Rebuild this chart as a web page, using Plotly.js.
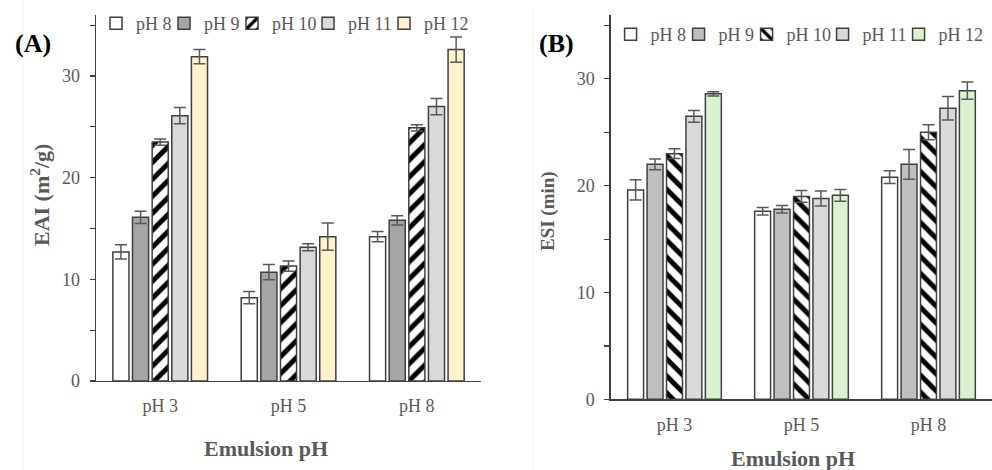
<!DOCTYPE html>
<html>
<head>
<meta charset="utf-8">
<script src="https://cdn.plot.ly/plotly-3.0.1.min.js"></script>
<style>html,body{margin:0;padding:0;background:#fff;}#chart{width:992px;height:470px;}</style>
</head>
<body>
<div id="chart"></div>
<script>
// ---- data ----
var categories = ['pH 3', 'pH 5', 'pH 8'];
var seriesNames = ['pH 8', 'pH 9', 'pH 10', 'pH 11', 'pH 12'];

// Panel A: EAI (m2/g)
var eaiPH8 = [12.7, 8.2, 14.2];
var eaiPH9 = [16.1, 10.7, 15.8];
var eaiPH10 = [23.5, 11.3, 24.9];
var eaiPH11 = [26.1, 13.15, 27.0];
var eaiPH12 = [31.9, 14.2, 32.6];
var eaiErrPH8 = [0.7, 0.6, 0.5];
var eaiErrPH9 = [0.6, 0.75, 0.45];
var eaiErrPH10 = [0.3, 0.5, 0.3];
var eaiErrPH11 = [0.8, 0.35, 0.8];
var eaiErrPH12 = [0.7, 1.35, 1.25];

// Panel B: ESI (min)
var esiPH8 = [19.6, 17.6, 20.8];
var esiPH9 = [22.0, 17.8, 22.0];
var esiPH10 = [23.0, 19.0, 25.0];
var esiPH11 = [26.5, 18.8, 27.25];
var esiPH12 = [28.6, 19.1, 28.9];
var esiErrPH8 = [0.95, 0.35, 0.6];
var esiErrPH9 = [0.5, 0.35, 1.4];
var esiErrPH10 = [0.45, 0.55, 0.7];
var esiErrPH11 = [0.55, 0.7, 1.1];
var esiErrPH12 = [0.2, 0.55, 0.8];

// ---- styles ----
var colorsA = ['#ffffff', '#a5a5a5', null, '#d9d9d9', '#fff2cc'];
var colorsB = ['#ffffff', '#bfbfbf', null, '#d9d9d9', '#daf2d0'];
var legendWidths = [23, 23, 31, 31, 47];
var FONT = 'Liberation Serif, Times New Roman, serif';
var GRAY = '#595959';

var valsA = [eaiPH8, eaiPH9, eaiPH10, eaiPH11, eaiPH12];
var errsA = [eaiErrPH8, eaiErrPH9, eaiErrPH10, eaiErrPH11, eaiErrPH12];
var valsB = [esiPH8, esiPH9, esiPH10, esiPH11, esiPH12];
var errsB = [esiErrPH8, esiErrPH9, esiErrPH10, esiErrPH11, esiErrPH12];

function makeTrace(i, vals, errs, colors, xa, ya, legend, shape) {
  var marker = {line: {color: '#3f3f3f', width: 1.5}};
  if (colors[i] === null) {
    marker.color = '#ffffff';
    marker.pattern = {shape: shape, fgcolor: '#000000', bgcolor: '#ffffff', size: 12, solidity: 0.42, fillmode: 'replace'};
  } else {
    marker.color = colors[i];
  }
  return {
    type: 'bar',
    name: seriesNames[i],
    x: categories,
    y: vals[i],
    xaxis: xa, yaxis: ya,
    legend: legend,
    legendwidth: legendWidths[i],
    marker: marker,
    error_y: {type: 'data', array: errs[i], visible: true, color: GRAY, thickness: 1.5, width: 6},
    hoverinfo: 'x+y+name'
  };
}

var data = [];
for (var i = 0; i < 5; i++) data.push(makeTrace(i, valsA, errsA, colorsA, 'x', 'y', 'legend', '/'));
for (var j = 0; j < 5; j++) data.push(makeTrace(j, valsB, errsB, colorsB, 'x2', 'y2', 'legend2', '\\'));

function yAxis(domain, anchor) {
  return {
    domain: domain, anchor: anchor, range: [0, 36],
    tickvals: [0, 10, 20, 30], ticks: 'outside', ticklen: 5, tickwidth: 1.2, tickcolor: '#404040',
    minor: {tickvals: [5, 15, 25, 35], ticks: 'outside', ticklen: 5, tickwidth: 1.2, tickcolor: '#404040'},
    showline: true, linecolor: '#404040', linewidth: 1.5,
    showgrid: false, zeroline: false,
    tickfont: {family: FONT, size: 18, color: GRAY},
    ticklabelstandoff: 6, fixedrange: true
  };
}
function xAxis(domain, anchor, standoff) {
  return {
    domain: domain, anchor: anchor, range: [-0.5, 2.5],
    showline: true, linecolor: '#404040', linewidth: 1.5,
    ticks: '', showgrid: false, zeroline: false,
    tickfont: {family: FONT, size: 18, color: GRAY},
    ticklabelstandoff: standoff, fixedrange: true
  };
}

var layout = {
  width: 992, height: 470,
  margin: {l: 0, r: 0, t: 0, b: 0},
  paper_bgcolor: '#ffffff', plot_bgcolor: 'rgba(0,0,0,0)',
  barmode: 'group', bargap: 0.235, bargroupgap: 0.18,
  font: {family: FONT, color: GRAY},
  xaxis: xAxis([0.0968, 0.4849], 'y', 8),
  yaxis: yAxis([0.1894, 0.968], 'x'),
  xaxis2: xAxis([0.6159, 1.0], 'y2', 9),
  yaxis2: yAxis([0.1504, 0.9685], 'x2'),
  legend: {
    orientation: 'h', x: 0.0968, xanchor: 'left', y: 0.989, yanchor: 'top',
    font: {family: FONT, size: 18, color: GRAY}, bgcolor: 'rgba(0,0,0,0)', traceorder: 'normal'
  },
  legend2: {
    orientation: 'h', x: 0.6155, xanchor: 'left', y: 0.966, yanchor: 'top',
    font: {family: FONT, size: 18, color: GRAY}, bgcolor: 'rgba(0,0,0,0)', traceorder: 'normal'
  },
  shapes: [
    {type: 'line', xref: 'paper', yref: 'paper', x0: 0.0232, x1: 0.0232, y0: 0, y1: 1, line: {color: '#efefef', width: 1}},
    {type: 'line', xref: 'paper', yref: 'paper', x0: 0.537, x1: 0.537, y0: 0, y1: 0.979, line: {color: '#efefef', width: 1}}
  ],
  annotations: [
    {text: '<b>(A)</b>', xref: 'paper', yref: 'paper', x: 0.0333, y: 0.9085, xanchor: 'center', yanchor: 'middle', showarrow: false, font: {family: FONT, size: 26, color: '#000000'}},
    {text: '<b>(B)</b>', xref: 'paper', yref: 'paper', x: 0.5605, y: 0.9085, xanchor: 'center', yanchor: 'middle', showarrow: false, font: {family: FONT, size: 26, color: '#000000'}},
    {text: '<b>EAI (m<sup>2</sup>/g)</b>', textangle: -90, xref: 'paper', yref: 'paper', x: 0.0403, y: 0.585, xanchor: 'center', yanchor: 'middle', showarrow: false, font: {family: FONT, size: 22, color: GRAY}},
    {text: '<b>ESI (min)</b>', textangle: -90, xref: 'paper', yref: 'paper', x: 0.5524, y: 0.551, xanchor: 'center', yanchor: 'middle', showarrow: false, font: {family: FONT, size: 19, color: GRAY}},
    {text: '<b>Emulsion pH</b>', xref: 'paper', yref: 'paper', x: 0.268, y: 0.0468, xanchor: 'center', yanchor: 'middle', showarrow: false, font: {family: FONT, size: 22, color: GRAY}},
    {text: '<b>Emulsion pH</b>', xref: 'paper', yref: 'paper', x: 0.799, y: 0.0255, xanchor: 'center', yanchor: 'middle', showarrow: false, font: {family: FONT, size: 22, color: GRAY}}
  ]
};

Plotly.newPlot('chart', data, layout, {displayModeBar: false, staticPlot: true});
</script>
</body>
</html>
